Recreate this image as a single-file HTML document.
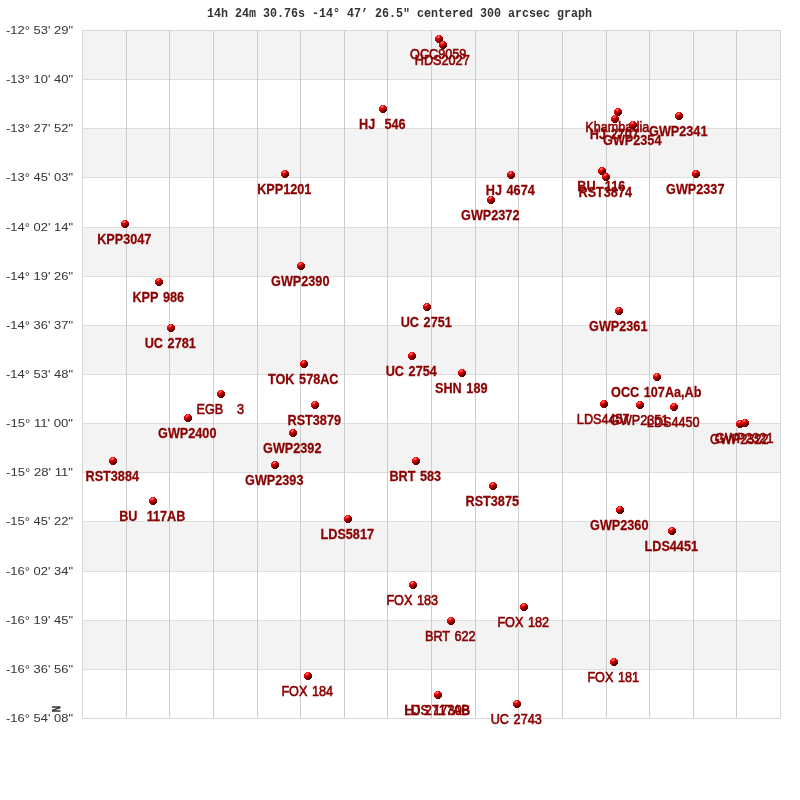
<!DOCTYPE html><html><head><meta charset="utf-8"><style>html,body{margin:0;padding:0;background:#fff;}svg{display:block;will-change:transform;}</style></head><body>
<svg width="800" height="800" viewBox="0 0 800 800" shape-rendering="crispEdges">
<defs><g id="st" shape-rendering="crispEdges" stroke="none"><rect x="2" y="0" width="1" height="1" fill="#ff1414"/><rect x="3" y="0" width="1" height="1" fill="#ff3434"/><rect x="4" y="0" width="1" height="1" fill="#f01010"/><rect x="5" y="0" width="1" height="1" fill="#dc0000"/><rect x="1" y="1" width="1" height="1" fill="#ff0808"/><rect x="2" y="1" width="1" height="1" fill="#ff2c2c"/><rect x="3" y="1" width="1" height="1" fill="#ff7474"/><rect x="4" y="1" width="1" height="1" fill="#ff4c4c"/><rect x="5" y="1" width="1" height="1" fill="#d80000"/><rect x="6" y="1" width="1" height="1" fill="#c00000"/><rect x="0" y="2" width="1" height="1" fill="#ff0000"/><rect x="1" y="2" width="1" height="1" fill="#ff1c1c"/><rect x="2" y="2" width="1" height="1" fill="#ff7c7c"/><rect x="3" y="2" width="1" height="1" fill="#ff6464"/><rect x="4" y="2" width="1" height="1" fill="#e00000"/><rect x="5" y="2" width="1" height="1" fill="#c80000"/><rect x="6" y="2" width="1" height="1" fill="#b00000"/><rect x="7" y="2" width="1" height="1" fill="#a00000"/><rect x="0" y="3" width="1" height="1" fill="#f80000"/><rect x="1" y="3" width="1" height="1" fill="#f00000"/><rect x="2" y="3" width="1" height="1" fill="#e40000"/><rect x="3" y="3" width="1" height="1" fill="#d80000"/><rect x="4" y="3" width="1" height="1" fill="#c40000"/><rect x="5" y="3" width="1" height="1" fill="#a80000"/><rect x="6" y="3" width="1" height="1" fill="#900000"/><rect x="7" y="3" width="1" height="1" fill="#900000"/><rect x="0" y="4" width="1" height="1" fill="#e80000"/><rect x="1" y="4" width="1" height="1" fill="#d80000"/><rect x="2" y="4" width="1" height="1" fill="#c80000"/><rect x="3" y="4" width="1" height="1" fill="#b80000"/><rect x="4" y="4" width="1" height="1" fill="#a00000"/><rect x="5" y="4" width="1" height="1" fill="#800000"/><rect x="6" y="4" width="1" height="1" fill="#600000"/><rect x="7" y="4" width="1" height="1" fill="#700000"/><rect x="0" y="5" width="1" height="1" fill="#c80000"/><rect x="1" y="5" width="1" height="1" fill="#b80000"/><rect x="2" y="5" width="1" height="1" fill="#a80000"/><rect x="3" y="5" width="1" height="1" fill="#980000"/><rect x="4" y="5" width="1" height="1" fill="#800000"/><rect x="5" y="5" width="1" height="1" fill="#600000"/><rect x="6" y="5" width="1" height="1" fill="#480000"/><rect x="7" y="5" width="1" height="1" fill="#600000"/><rect x="1" y="6" width="1" height="1" fill="#a00000"/><rect x="2" y="6" width="1" height="1" fill="#900000"/><rect x="3" y="6" width="1" height="1" fill="#800000"/><rect x="4" y="6" width="1" height="1" fill="#680000"/><rect x="5" y="6" width="1" height="1" fill="#500000"/><rect x="6" y="6" width="1" height="1" fill="#580000"/><rect x="2" y="7" width="1" height="1" fill="#880000"/><rect x="3" y="7" width="1" height="1" fill="#780000"/><rect x="4" y="7" width="1" height="1" fill="#680000"/><rect x="5" y="7" width="1" height="1" fill="#700000"/></g></defs>
<rect width="800" height="800" fill="#fff"/>
<rect x="82" y="30" width="698" height="49" fill="#f3f3f3"/>
<rect x="82" y="128" width="698" height="49" fill="#f3f3f3"/>
<rect x="82" y="227" width="698" height="49" fill="#f3f3f3"/>
<rect x="82" y="325" width="698" height="49" fill="#f3f3f3"/>
<rect x="82" y="423" width="698" height="49" fill="#f3f3f3"/>
<rect x="82" y="521" width="698" height="50" fill="#f3f3f3"/>
<rect x="82" y="620" width="698" height="49" fill="#f3f3f3"/>
<rect x="82" y="79" width="699" height="1" fill="#dedede"/>
<rect x="82" y="128" width="699" height="1" fill="#dedede"/>
<rect x="82" y="177" width="699" height="1" fill="#dedede"/>
<rect x="82" y="227" width="699" height="1" fill="#dedede"/>
<rect x="82" y="276" width="699" height="1" fill="#dedede"/>
<rect x="82" y="325" width="699" height="1" fill="#dedede"/>
<rect x="82" y="374" width="699" height="1" fill="#dedede"/>
<rect x="82" y="423" width="699" height="1" fill="#dedede"/>
<rect x="82" y="472" width="699" height="1" fill="#dedede"/>
<rect x="82" y="521" width="699" height="1" fill="#dedede"/>
<rect x="82" y="571" width="699" height="1" fill="#dedede"/>
<rect x="82" y="620" width="699" height="1" fill="#dedede"/>
<rect x="82" y="669" width="699" height="1" fill="#dedede"/>
<rect x="126" y="30" width="1" height="689" fill="#cccccc"/>
<rect x="169" y="30" width="1" height="689" fill="#cccccc"/>
<rect x="213" y="30" width="1" height="689" fill="#cccccc"/>
<rect x="257" y="30" width="1" height="689" fill="#cccccc"/>
<rect x="300" y="30" width="1" height="689" fill="#cccccc"/>
<rect x="344" y="30" width="1" height="689" fill="#cccccc"/>
<rect x="387" y="30" width="1" height="689" fill="#cccccc"/>
<rect x="431" y="30" width="1" height="689" fill="#cccccc"/>
<rect x="475" y="30" width="1" height="689" fill="#cccccc"/>
<rect x="518" y="30" width="1" height="689" fill="#cccccc"/>
<rect x="562" y="30" width="1" height="689" fill="#cccccc"/>
<rect x="606" y="30" width="1" height="689" fill="#cccccc"/>
<rect x="649" y="30" width="1" height="689" fill="#cccccc"/>
<rect x="693" y="30" width="1" height="689" fill="#cccccc"/>
<rect x="736" y="30" width="1" height="689" fill="#cccccc"/>
<rect x="82.5" y="30.5" width="698" height="688" fill="none" stroke="#d8d8d8" stroke-width="1"/>
<g font-family="Liberation Sans" font-size="11" fill="#333" shape-rendering="auto">
<text x="6" y="34" textLength="67" lengthAdjust="spacingAndGlyphs">-12° 53&#39; 29&quot;</text>
<text x="6" y="83" textLength="67" lengthAdjust="spacingAndGlyphs">-13° 10&#39; 40&quot;</text>
<text x="6" y="132" textLength="67" lengthAdjust="spacingAndGlyphs">-13° 27&#39; 52&quot;</text>
<text x="6" y="181" textLength="67" lengthAdjust="spacingAndGlyphs">-13° 45&#39; 03&quot;</text>
<text x="6" y="231" textLength="67" lengthAdjust="spacingAndGlyphs">-14° 02&#39; 14&quot;</text>
<text x="6" y="280" textLength="67" lengthAdjust="spacingAndGlyphs">-14° 19&#39; 26&quot;</text>
<text x="6" y="329" textLength="67" lengthAdjust="spacingAndGlyphs">-14° 36&#39; 37&quot;</text>
<text x="6" y="378" textLength="67" lengthAdjust="spacingAndGlyphs">-14° 53&#39; 48&quot;</text>
<text x="6" y="427" textLength="67" lengthAdjust="spacingAndGlyphs">-15° 11&#39; 00&quot;</text>
<text x="6" y="476" textLength="67" lengthAdjust="spacingAndGlyphs">-15° 28&#39; 11&quot;</text>
<text x="6" y="525" textLength="67" lengthAdjust="spacingAndGlyphs">-15° 45&#39; 22&quot;</text>
<text x="6" y="575" textLength="67" lengthAdjust="spacingAndGlyphs">-16° 02&#39; 34&quot;</text>
<text x="6" y="624" textLength="67" lengthAdjust="spacingAndGlyphs">-16° 19&#39; 45&quot;</text>
<text x="6" y="673" textLength="67" lengthAdjust="spacingAndGlyphs">-16° 36&#39; 56&quot;</text>
<text x="6" y="722" textLength="67" lengthAdjust="spacingAndGlyphs">-16° 54&#39; 08&quot;</text>
</g>
<text x="207" y="17" font-family="Liberation Mono" font-weight="bold" font-size="12.2" fill="#333" textLength="385" lengthAdjust="spacingAndGlyphs">14h 24m 30.76s -14° 47’ 26.5&quot; centered 300 arcsec graph</text>
<text x="0" y="0" transform="translate(52,705.5) rotate(90) scale(1,1.1)" text-rendering="geometricPrecision" font-family="Liberation Mono" font-weight="bold" font-size="11.7" fill="#333">N</text>
<g shape-rendering="auto" text-anchor="middle" word-spacing="1.2" font-family="Liberation Sans" font-size="14" fill="#8b0000" stroke="#8b0000">
<use href="#st" x="435" y="35"/>
<text transform="translate(438.25,59) scale(0.905,1)" stroke-width="0.6" style="white-space:pre">OCC9059</text>
<use href="#st" x="439" y="41"/>
<text transform="translate(442.25,65) scale(0.905,1)" stroke-width="0.6" style="white-space:pre">HDS2027</text>
<use href="#st" x="379" y="105"/>
<text transform="translate(382.25,129) scale(0.905,1)" font-weight="bold" stroke-width="0.25" style="white-space:pre">HJ  546</text>
<use href="#st" x="614" y="108"/>
<text transform="translate(617.25,132) scale(0.905,1)" stroke-width="0.6" style="white-space:pre">Khambadia</text>
<use href="#st" x="611" y="115"/>
<text transform="translate(614.25,139) scale(0.905,1)" font-weight="bold" stroke-width="0.25" style="white-space:pre">HJ 2707</text>
<use href="#st" x="629" y="121"/>
<text transform="translate(632.25,145) scale(0.905,1)" font-weight="bold" stroke-width="0.25" style="white-space:pre">GWP2354</text>
<use href="#st" x="675" y="112"/>
<text transform="translate(678.25,136) scale(0.905,1)" font-weight="bold" stroke-width="0.25" style="white-space:pre">GWP2341</text>
<use href="#st" x="281" y="170"/>
<text transform="translate(284.25,194) scale(0.905,1)" font-weight="bold" stroke-width="0.25" style="white-space:pre">KPP1201</text>
<use href="#st" x="507" y="171"/>
<text transform="translate(510.25,195) scale(0.905,1)" font-weight="bold" stroke-width="0.25" style="white-space:pre">HJ 4674</text>
<use href="#st" x="487" y="196"/>
<text transform="translate(490.25,220) scale(0.905,1)" font-weight="bold" stroke-width="0.25" style="white-space:pre">GWP2372</text>
<use href="#st" x="598" y="167"/>
<text transform="translate(601.25,191) scale(0.905,1)" font-weight="bold" stroke-width="0.25" style="white-space:pre">BU  116</text>
<use href="#st" x="602" y="173"/>
<text transform="translate(605.25,197) scale(0.905,1)" font-weight="bold" stroke-width="0.25" style="white-space:pre">RST3874</text>
<use href="#st" x="692" y="170"/>
<text transform="translate(695.25,194) scale(0.905,1)" font-weight="bold" stroke-width="0.25" style="white-space:pre">GWP2337</text>
<use href="#st" x="121" y="220"/>
<text transform="translate(124.25,244) scale(0.905,1)" font-weight="bold" stroke-width="0.25" style="white-space:pre">KPP3047</text>
<use href="#st" x="297" y="262"/>
<text transform="translate(300.25,286) scale(0.905,1)" font-weight="bold" stroke-width="0.25" style="white-space:pre">GWP2390</text>
<use href="#st" x="155" y="278"/>
<text transform="translate(158.25,302) scale(0.905,1)" font-weight="bold" stroke-width="0.25" style="white-space:pre">KPP 986</text>
<use href="#st" x="423" y="303"/>
<text transform="translate(426.25,327) scale(0.905,1)" font-weight="bold" stroke-width="0.25" style="white-space:pre">UC 2751</text>
<use href="#st" x="615" y="307"/>
<text transform="translate(618.25,331) scale(0.905,1)" font-weight="bold" stroke-width="0.25" style="white-space:pre">GWP2361</text>
<use href="#st" x="167" y="324"/>
<text transform="translate(170.25,348) scale(0.905,1)" font-weight="bold" stroke-width="0.25" style="white-space:pre">UC 2781</text>
<use href="#st" x="300" y="360"/>
<text transform="translate(303.25,384) scale(0.905,1)" font-weight="bold" stroke-width="0.25" style="white-space:pre">TOK 578AC</text>
<use href="#st" x="408" y="352"/>
<text transform="translate(411.25,376) scale(0.905,1)" font-weight="bold" stroke-width="0.25" style="white-space:pre">UC 2754</text>
<use href="#st" x="458" y="369"/>
<text transform="translate(461.25,393) scale(0.905,1)" font-weight="bold" stroke-width="0.25" style="white-space:pre">SHN 189</text>
<use href="#st" x="653" y="373"/>
<text transform="translate(656.25,397) scale(0.905,1)" font-weight="bold" stroke-width="0.25" style="white-space:pre">OCC 107Aa,Ab</text>
<use href="#st" x="217" y="390"/>
<text transform="translate(220.25,414) scale(0.905,1)" stroke-width="0.6" style="white-space:pre">EGB   3</text>
<use href="#st" x="311" y="401"/>
<text transform="translate(314.25,425) scale(0.905,1)" font-weight="bold" stroke-width="0.25" style="white-space:pre">RST3879</text>
<use href="#st" x="600" y="400"/>
<text transform="translate(603.25,424) scale(0.905,1)" stroke-width="0.6" style="white-space:pre">LDS4457</text>
<use href="#st" x="636" y="401"/>
<text transform="translate(639.25,425) scale(0.905,1)" stroke-width="0.6" style="white-space:pre">GWP2351</text>
<use href="#st" x="670" y="403"/>
<text transform="translate(673.25,427) scale(0.905,1)" stroke-width="0.6" style="white-space:pre">LDS4450</text>
<use href="#st" x="184" y="414"/>
<text transform="translate(187.25,438) scale(0.905,1)" font-weight="bold" stroke-width="0.25" style="white-space:pre">GWP2400</text>
<use href="#st" x="289" y="429"/>
<text transform="translate(292.25,453) scale(0.905,1)" font-weight="bold" stroke-width="0.25" style="white-space:pre">GWP2392</text>
<use href="#st" x="736" y="420"/>
<text transform="translate(739.25,444) scale(0.905,1)" stroke-width="0.6" style="white-space:pre">GWP2322</text>
<use href="#st" x="741" y="419"/>
<text transform="translate(744.25,443) scale(0.905,1)" stroke-width="0.6" style="white-space:pre">GWP2321</text>
<use href="#st" x="109" y="457"/>
<text transform="translate(112.25,481) scale(0.905,1)" font-weight="bold" stroke-width="0.25" style="white-space:pre">RST3884</text>
<use href="#st" x="412" y="457"/>
<text transform="translate(415.25,481) scale(0.905,1)" font-weight="bold" stroke-width="0.25" style="white-space:pre">BRT 583</text>
<use href="#st" x="271" y="461"/>
<text transform="translate(274.25,485) scale(0.905,1)" font-weight="bold" stroke-width="0.25" style="white-space:pre">GWP2393</text>
<use href="#st" x="489" y="482"/>
<text transform="translate(492.25,506) scale(0.905,1)" font-weight="bold" stroke-width="0.25" style="white-space:pre">RST3875</text>
<use href="#st" x="149" y="497"/>
<text transform="translate(152.25,521) scale(0.905,1)" font-weight="bold" stroke-width="0.25" style="white-space:pre">BU  117AB</text>
<use href="#st" x="344" y="515"/>
<text transform="translate(347.25,539) scale(0.905,1)" font-weight="bold" stroke-width="0.25" style="white-space:pre">LDS5817</text>
<use href="#st" x="616" y="506"/>
<text transform="translate(619.25,530) scale(0.905,1)" font-weight="bold" stroke-width="0.25" style="white-space:pre">GWP2360</text>
<use href="#st" x="668" y="527"/>
<text transform="translate(671.25,551) scale(0.905,1)" font-weight="bold" stroke-width="0.25" style="white-space:pre">LDS4451</text>
<use href="#st" x="409" y="581"/>
<text transform="translate(412.25,605) scale(0.905,1)" stroke-width="0.6" style="white-space:pre">FOX 183</text>
<use href="#st" x="520" y="603"/>
<text transform="translate(523.25,627) scale(0.905,1)" stroke-width="0.6" style="white-space:pre">FOX 182</text>
<use href="#st" x="447" y="617"/>
<text transform="translate(450.25,641) scale(0.905,1)" stroke-width="0.6" style="white-space:pre">BRT 622</text>
<use href="#st" x="304" y="672"/>
<text transform="translate(307.25,696) scale(0.905,1)" stroke-width="0.6" style="white-space:pre">FOX 184</text>
<use href="#st" x="610" y="658"/>
<text transform="translate(613.25,682) scale(0.905,1)" stroke-width="0.6" style="white-space:pre">FOX 181</text>
<use href="#st" x="434" y="691"/>
<text transform="translate(437.25,715) scale(0.905,1)" stroke-width="0.6" style="white-space:pre">HJ 2717AB</text>
<use href="#st" x="434" y="691"/>
<text transform="translate(437.25,715) scale(0.905,1)" stroke-width="0.6" style="white-space:pre">LDS 1730B</text>
<use href="#st" x="513" y="700"/>
<text transform="translate(516.25,724) scale(0.905,1)" stroke-width="0.6" style="white-space:pre">UC 2743</text>
</g>
</svg></body></html>
